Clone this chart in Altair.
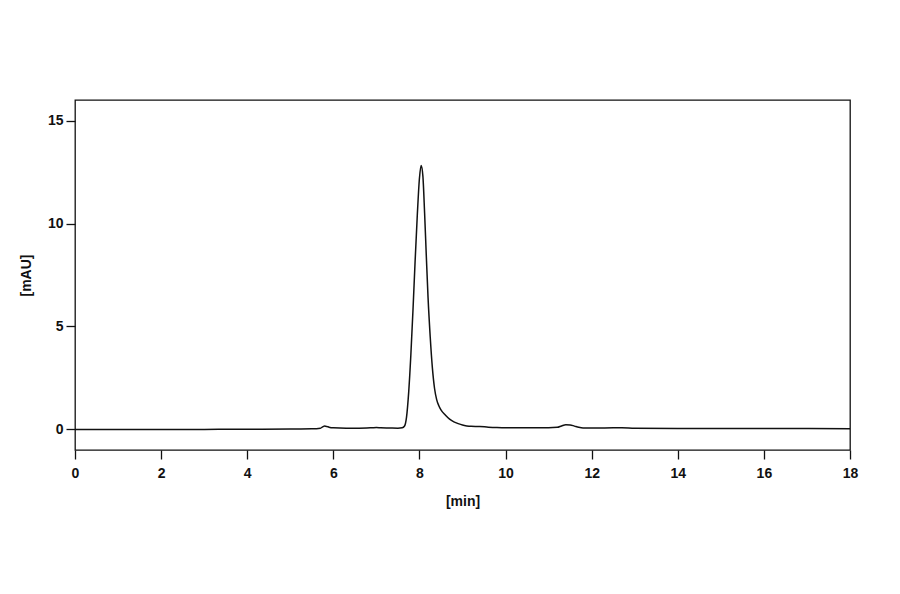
import altair as alt
import pandas as pd

# Chromatogram trace: retention time [min] and absorbance [mAU]
time_min = [
    0.0, 1.0, 2.0, 3.0, 4.0, 5.0, 5.5, 5.7, 5.75, 5.8, 5.85, 5.9, 6.0, 6.3, 6.6,
    6.9, 7.0, 7.1, 7.3, 7.5, 7.6, 7.65, 7.70, 7.75, 7.80, 7.85, 7.90, 7.95,
    8.00, 8.04, 8.08, 8.12, 8.16, 8.20, 8.25, 8.30, 8.35, 8.40, 8.45, 8.50,
    8.60, 8.70, 8.80, 8.90, 9.00, 9.10, 9.20, 9.40, 9.60, 9.80, 10.0, 10.5,
    11.0, 11.2, 11.3, 11.4, 11.5, 11.6, 11.7, 11.8, 12.3, 12.7, 13.0, 14.0,
    15.0, 16.0, 17.0, 18.0,
]
signal_mau = [
    0.0, 0.0, 0.0, 0.0, 0.01, 0.02, 0.03, 0.06, 0.12, 0.16, 0.14, 0.11, 0.08,
    0.06, 0.06, 0.08, 0.09, 0.08, 0.07, 0.06, 0.08, 0.15, 0.6, 1.8, 3.6, 5.8,
    8.2, 10.4, 12.2, 12.82, 12.3, 10.5, 8.4, 6.4, 4.5, 3.0, 2.0, 1.45, 1.15,
    0.95, 0.70, 0.50, 0.37, 0.28, 0.21, 0.17, 0.15, 0.14, 0.11, 0.09, 0.08,
    0.08, 0.08, 0.10, 0.17, 0.23, 0.22, 0.16, 0.10, 0.07, 0.07, 0.08, 0.06,
    0.05, 0.05, 0.04, 0.04, 0.03,
]
x_ticks = [0, 2, 4, 6, 8, 10, 12, 14, 16, 18]
y_ticks = [0, 5, 10, 15]

df = pd.DataFrame({"t": time_min, "v": signal_mau})

FONT = "Liberation Sans"
INK = "#111111"

common_axis = dict(
    format="d",
    grid=False,
    domain=False,
    ticks=True,
    tickSize=9,
    tickColor=INK,
    tickWidth=1.3,
    labelFlush=False,
    labelFont=FONT,
    labelFontSize=14,
    labelFontWeight="bold",
    labelColor=INK,
    titleFont=FONT,
    titleFontSize=14,
    titleFontWeight="bold",
    titleColor=INK,
)

chart = (
    alt.Chart(df)
    .mark_line(color=INK, strokeWidth=1.5, interpolate="monotone")
    .encode(
        x=alt.X(
            "t:Q",
            scale=alt.Scale(domain=[0, 18], nice=False, zero=False),
            axis=alt.Axis(
                title="[min]", values=x_ticks, labelPadding=7, titlePadding=14,
                **common_axis,
            ),
        ),
        y=alt.Y(
            "v:Q",
            scale=alt.Scale(domain=[-1, 16], nice=False, zero=False),
            axis=alt.Axis(
                title="[mAU]", values=y_ticks, labelPadding=3, titlePadding=14,
                **common_axis,
            ),
        ),
    )
    .properties(
        width=775,
        height=350,
        autosize=alt.AutoSizeParams(type="none"),
        padding={"left": 67, "top": 92, "right": 30, "bottom": 120},
        background="white",
    )
    .configure_view(stroke=INK, strokeWidth=1.3)
)

chart.save("out.html", embed_options={"renderer": "svg", "actions": False})
